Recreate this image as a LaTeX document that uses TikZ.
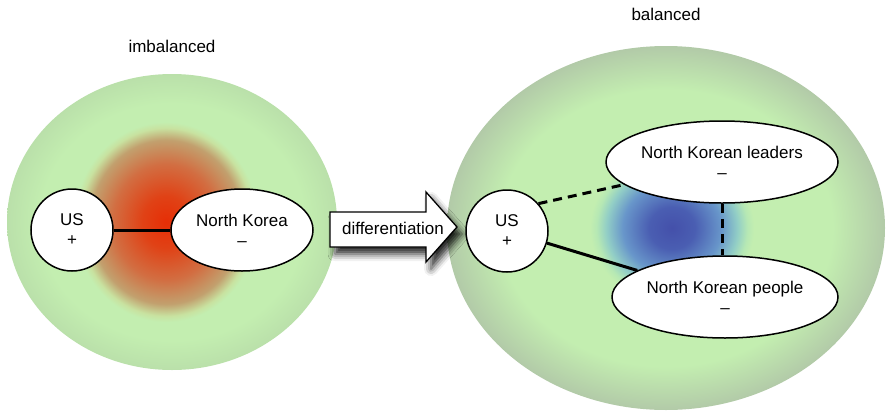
\documentclass[tikz,border=0pt]{standalone}
\usepackage{fontspec}
\setmainfont{Liberation Sans}
\usetikzlibrary{shapes.geometric,shadows.blur}

% field colours
\definecolor{eggin}{RGB}{195,238,176}
\definecolor{eggrimL}{RGB}{186,224,170}
\definecolor{eggrimR}{RGB}{178,202,168}
% imbalance hot spot
\definecolor{hotA}{RGB}{230,46,6}
\definecolor{hotB}{RGB}{224,66,22}
\definecolor{hotC}{RGB}{210,110,66}
\definecolor{hotD}{RGB}{194,160,110}
\definecolor{hotE}{RGB}{200,226,160}
% balance cold spot
\definecolor{coldA}{RGB}{68,80,170}
\definecolor{coldB}{RGB}{74,94,178}
\definecolor{coldC}{RGB}{104,150,202}
\definecolor{coldD}{RGB}{146,206,198}
\definecolor{coldE}{RGB}{182,232,180}

% radial shadings: the path's bounding box spans a radius of 25bp
\pgfdeclareradialshading{eggL}{\pgfpoint{0bp}{0bp}}{color(0bp)=(eggin); color(20bp)=(eggin); color(25bp)=(eggrimL); color(50bp)=(eggrimL)}
\pgfdeclareradialshading{eggR}{\pgfpoint{0bp}{0bp}}{color(0bp)=(eggin); color(19bp)=(eggin); color(25bp)=(eggrimR); color(50bp)=(eggrimR)}
\pgfdeclareradialshading{hotspot}{\pgfpoint{0bp}{0bp}}{color(0bp)=(hotA); color(6.5bp)=(hotB); color(14.5bp)=(hotC); color(20.5bp)=(hotD); color(23.5bp)=(hotE); color(25bp)=(eggin); color(50bp)=(eggin)}
\pgfdeclareradialshading{coldspot}{\pgfpoint{0bp}{0bp}}{color(0bp)=(coldA); color(7bp)=(coldB); color(15bp)=(coldC); color(20bp)=(coldD); color(23bp)=(coldE); color(25bp)=(eggin); color(50bp)=(eggin)}

\tikzset{
  txt/.style={font=\fontsize{17}{20}\selectfont},
  actor/.style={ellipse, draw, fill=white, line width=1.5pt, align=center, inner sep=0pt, txt},
  tie/.style={line width=3pt},
  weak/.style={line width=3pt, dash pattern=on 9pt off 6pt},
  bigarrow/.style={draw, fill=white, line width=1.3pt,
    blur shadow={shadow xshift=5pt, shadow yshift=-7pt, shadow blur radius=7pt, shadow opacity=85}}
}

\begin{document}
\begin{tikzpicture}[x=1pt,y=-1pt]
\useasboundingbox (0,0) rectangle (886,410);

% fields
\shade[shading=eggL] (172,222) ellipse [x radius=165pt, y radius=148pt];
\shade[shading=eggR] (666,228) ellipse [x radius=219pt, y radius=182pt];
\shade[shading=hotspot] (166,222) ellipse [x radius=92pt, y radius=100pt];
\shade[shading=coldspot] (672,228) ellipse [x radius=82pt, y radius=75pt];

% titles
\node[txt] (tl) at (172,46) {imbalanced};
\node[txt] (tr) at (666,14) {balanced};

% imbalanced triad
\node[actor, minimum width=82pt, minimum height=82pt] (us1) at (72,230) {US\\+};
\node[actor, minimum width=142pt, minimum height=82pt] (nk) at (242,230) {North Korea\\–};
\draw[tie] (us1) -- (nk);

% differentiation arrow
\path[bigarrow] (330,212) -- (426,212) -- (426,192) -- (457,227) -- (426,262) -- (426,247) -- (330,247) -- cycle;
\node[txt] (diff) at (393,228) {differentiation};

% balanced triad
\node[actor, minimum width=82pt, minimum height=82pt] (us2) at (507,231) {US\\+};
\node[actor, minimum width=232pt, minimum height=82pt] (leaders) at (722,162) {North Korean leaders\\–};
\node[actor, minimum width=226pt, minimum height=82pt] (people) at (725,297) {North Korean people\\–};
\draw[weak] (us2.41) -- (leaders.193);
\draw[tie] (us2) -- (people);
\draw[weak] (leaders.south) -- (leaders.south |- people.north);
\end{tikzpicture}
\end{document}
